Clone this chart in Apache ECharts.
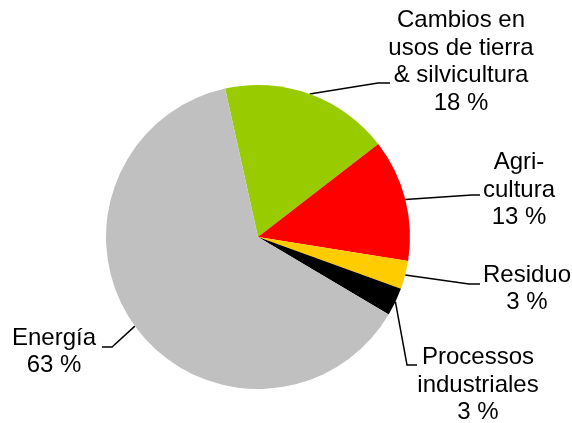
<!DOCTYPE html>
<html style="height: 100%">
<head>
    <meta charset="utf-8">
    <title>Emisiones por sector</title>
</head>
<body style="margin: 0">
<div id="container" style="width: 572px; height: 423px"></div>

<script src="https://cdn.jsdelivr.net/npm/echarts@6/dist/echarts.min.js" type="text/javascript"></script>

<script type="text/javascript">
    // sectores, en el orden en que aparecen (desde arriba, sentido horario)
    var sectors = ['Cambios en\nusos de tierra\n& silvicultura', 'Agri-\ncultura', 'Residuo', 'Processos\nindustriales', 'Energía'];
    var shares = [18, 13, 3, 3, 63];
    var colors = ['#99CC00', '#FF0000', '#FFCC00', '#000000', '#C0C0C0'];

    // posicion de cada etiqueta (centro del texto) y codo / final de la linea guia
    var labelPos = [[461, 62], [519, 190], [527, 289], [478, 385], [54, 352]];
    var elbows = [[378, 83], [472, 195], [469, 284], [407, 365], [112, 347]];
    var lineEnds = [[390, 83], [480, 195], [480, 284], [417, 365], [102, 347]];

    var cx = 258, cy = 237, R = 152, START = 102.5;

    // punto del borde en el angulo medio de cada sector
    function edgePoint(i) {
        var total = 0, before = 0;
        for (var k = 0; k < shares.length; k++) {
            total += shares[k];
            if (k < i) before += shares[k];
        }
        var a = (START - (before + shares[i] / 2) / total * 360) * Math.PI / 180;
        return [cx + R * Math.cos(a), cy - R * Math.sin(a)];
    }

    var dom = document.getElementById("container");
    var myChart = echarts.init(dom);

    var option = {
        animation: false,
        backgroundColor: '#ffffff',
        series: [{
            type: 'pie',
            center: [cx, cy],
            radius: R,
            startAngle: START,
            clockwise: true,
            color: colors,
            data: sectors.map(function (name, i) {
                return {name: name, value: shares[i]};
            }),
            itemStyle: {borderWidth: 0},
            emphasis: {disabled: true},
            label: {
                show: true,
                position: 'outside',
                formatter: '{b}\n{c} %',
                fontFamily: 'Liberation Sans, Arial, sans-serif',
                fontSize: 24,
                lineHeight: 27.6,
                color: '#000000',
                align: 'center',
                overflow: 'none',
                width: 200
            },
            labelLine: {
                show: true,
                smooth: false,
                lineStyle: {color: '#000000', width: 1.5}
            },
            labelLayout: function (params) {
                var i = params.dataIndex;
                return {
                    x: labelPos[i][0],
                    y: labelPos[i][1],
                    align: 'center',
                    verticalAlign: 'middle',
                    labelLinePoints: [edgePoint(i), elbows[i], lineEnds[i]]
                };
            }
        }]
    };

    myChart.setOption(option);
</script>
</body>
</html>
